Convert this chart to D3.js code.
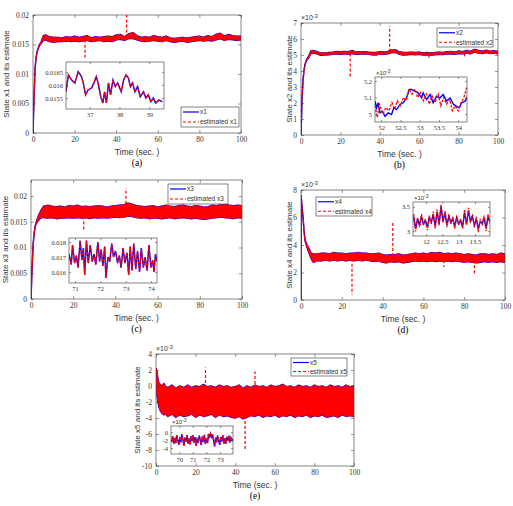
<!DOCTYPE html>
<html lang="en">
<head>
<meta charset="utf-8"/>
<script src="https://d3js.org/d3.v7.min.js"></script>
<style>
  body { margin: 0; background: #fff; }
  text { font-family: "Liberation Sans", Arial, sans-serif; fill: #333; }
  .cap { font-family: "Liberation Serif", "Times New Roman", serif; fill: #000; }
</style>
</head>
<body>
<script>
// ---------- data ----------
// shared time grid after the start-up transient (sec.)
var tailT = [6,8,10,12,14,16,18,20,22,24,26,28,30,32,34,36,38,40,42,44,46,48,50,52,
             54,56,58,60,62,64,66,68,70,72,74,76,78,80,82,84,86,88,90,92,94,96,98,100];

// (a) x1
var x1HeadT  = [0, 0.5, 1, 1.5, 2, 3, 4, 5];
var x1HeadLo = [0, 0.006, 0.011, 0.0128, 0.0138, 0.0148, 0.0152, 0.0157];
var x1HeadHi = [0, 0.006, 0.011, 0.0128, 0.0138, 0.0149, 0.0155, 0.0165];
var x1Lo = [0.0158,0.0155,0.0154,0.0155,0.0155,0.0156,0.0155,0.0156,0.0155,0.0156,0.0157,0.0155,
            0.0156,0.0157,0.0155,0.0156,0.0155,0.0158,0.0159,0.0157,0.0160,0.0160,0.0158,0.0156,
            0.0155,0.0156,0.0157,0.0156,0.0155,0.0157,0.0155,0.0154,0.0155,0.0156,0.0154,0.0155,
            0.0156,0.0157,0.0156,0.0157,0.0156,0.0158,0.0160,0.0157,0.0159,0.0158,0.0157,0.0158];
var x1Hi = [0.0166,0.0163,0.0162,0.0162,0.0161,0.0163,0.0162,0.0164,0.0162,0.0163,0.0165,0.0161,
            0.0163,0.0162,0.0163,0.0164,0.0163,0.0166,0.0167,0.0163,0.0168,0.0170,0.0165,0.0162,
            0.0163,0.0162,0.0165,0.0163,0.0162,0.0164,0.0161,0.0160,0.0161,0.0162,0.0161,0.0162,
            0.0163,0.0164,0.0162,0.0165,0.0163,0.0167,0.0169,0.0164,0.0167,0.0165,0.0164,0.0164];
var x1Spikes = [[25, 0.0158, 0.0127], [45, 0.0162, 0.0210]];
var x1InsetT = [36.20,36.28,36.39,36.50,36.61,36.72,36.78,36.86,36.94,37.06,37.14,37.22,37.28,
                37.37,37.44,37.50,37.56,37.63,37.70,37.78,37.86,37.94,38.06,38.14,38.22,38.30,
                38.37,38.44,38.52,38.61,38.70,38.81,38.89,38.97,39.06,39.14,39.22,39.33,39.44];
var x1InsetV = [0.01574,0.01638,0.01619,0.01608,0.01651,0.01632,0.01608,0.01562,0.01581,0.01588,
                0.01608,0.01632,0.01608,0.01555,0.01531,0.01574,0.01531,0.01608,0.01562,0.01619,
                0.01594,0.01608,0.01574,0.01619,0.01638,0.01627,0.01594,0.01608,0.01574,0.01594,
                0.01555,0.01574,0.01550,0.01562,0.01536,0.01550,0.01531,0.01542,0.01536];

// (b) x2, values in 1e-3
var x2HeadT  = [0, 0.5, 1, 1.5, 2, 3, 4, 5];
var x2HeadLo = [0, 2.2, 3.4, 4.0, 4.4, 4.7, 4.85, 5.1];
var x2HeadHi = [0, 2.2, 3.4, 4.0, 4.4, 4.75, 4.95, 5.25];
var x2Lo = [5.12,5.08,4.98,5.00,5.02,5.05,5.08,5.05,5.08,5.05,5.10,5.05,5.06,5.08,5.06,5.02,
            5.00,5.08,5.05,5.08,5.15,5.15,5.05,5.00,5.02,5.05,5.02,5.05,5.00,5.02,4.98,5.02,
            5.05,5.03,5.06,5.08,5.05,5.10,5.08,5.12,5.08,5.18,5.12,5.10,5.15,5.10,5.12,5.08];
var x2Hi = [5.28,5.22,5.12,5.12,5.15,5.18,5.22,5.20,5.22,5.20,5.28,5.18,5.20,5.20,5.18,5.15,
            5.15,5.20,5.18,5.22,5.32,5.32,5.20,5.15,5.15,5.18,5.15,5.18,5.12,5.15,5.12,5.15,
            5.18,5.15,5.20,5.22,5.18,5.25,5.20,5.28,5.22,5.35,5.28,5.24,5.30,5.24,5.26,5.22];
var x2Spikes = [[25, 5.1, 3.6], [45, 5.2, 6.8], [65, 5.02, 4.75], [83, 5.1, 4.85]];
var x2InsetT = [51.84,51.88,51.92,51.97,52.03,52.10,52.18,52.27,52.33,52.40,52.49,52.57,52.66,
                52.73,52.79,52.88,52.96,53.05,53.09,53.18,53.27,53.35,53.44,53.53,53.61,53.70,
                53.79,53.88,53.96,54.03,54.09,54.18,54.25];
var x2InsetV = [5.078,5.038,5.068,5.007,5.017,4.987,5.007,4.997,5.038,5.027,5.058,5.068,5.098,
                5.148,5.148,5.138,5.128,5.098,5.128,5.088,5.118,5.068,5.108,5.098,5.118,5.078,
                5.098,5.058,5.047,5.038,5.068,5.078,5.108];
var x2EstT = [51.84,51.90,51.95,52.00,52.05,52.12,52.20,52.28,52.35,52.42,52.50,52.58,52.65,
              52.72,52.80,52.88,52.95,53.02,53.10,53.18,53.25,53.32,53.40,53.48,53.55,53.62,
              53.70,53.78,53.85,53.92,54.00,54.08,54.15,54.22];
var x2EstV = [5.05,4.98,5.06,5.03,5.00,5.04,5.02,5.07,5.03,5.08,5.05,5.10,5.08,5.15,5.12,5.15,
              5.10,5.13,5.08,5.12,5.06,5.11,5.07,5.12,5.05,5.10,5.06,5.09,5.02,5.05,5.02,5.07,
              5.10,5.16];

// (c) x3
var x3HeadT  = [0, 0.5, 1, 1.5, 2, 3, 4, 5];
var x3HeadLo = [0, 0.006, 0.0105, 0.0128, 0.0142, 0.0150, 0.0155, 0.0158];
var x3HeadHi = [0, 0.006, 0.0105, 0.0128, 0.0142, 0.0156, 0.0166, 0.0174];
var x3Lo = [0.0158,0.0157,0.0158,0.0156,0.0157,0.0157,0.0158,0.0157,0.0158,0.0157,0.0158,0.0156,
            0.0158,0.0157,0.0158,0.0157,0.0158,0.0159,0.0158,0.0159,0.0161,0.0160,0.0158,0.0157,
            0.0158,0.0156,0.0157,0.0157,0.0156,0.0157,0.0158,0.0156,0.0157,0.0158,0.0157,0.0156,
            0.0157,0.0156,0.0155,0.0156,0.0157,0.0158,0.0159,0.0158,0.0157,0.0156,0.0158,0.0157];
var x3Hi = [0.0180,0.0182,0.0180,0.0179,0.0180,0.0178,0.0181,0.0180,0.0182,0.0179,0.0180,0.0179,
            0.0180,0.0181,0.0180,0.0178,0.0180,0.0181,0.0182,0.0183,0.0186,0.0184,0.0181,0.0180,
            0.0179,0.0180,0.0181,0.0178,0.0180,0.0182,0.0180,0.0179,0.0181,0.0182,0.0180,0.0179,
            0.0181,0.0180,0.0178,0.0179,0.0182,0.0181,0.0183,0.0184,0.0182,0.0181,0.0182,0.0181];
var x3Spikes = [[25, 0.0160, 0.0135], [45, 0.0175, 0.0215]];
var x3InsetT = [70.76,70.85,70.90,70.98,71.05,71.12,71.20,71.27,71.33,71.38,71.45,71.52,71.60,
                71.68,71.75,71.82,71.90,71.97,72.03,72.10,72.17,72.22,72.30,72.37,72.45,72.52,
                72.60,72.68,72.75,72.82,72.90,72.97,73.05,73.12,73.18,73.25,73.32,73.40,73.47,
                73.55,73.62,73.70,73.77,73.85,73.92,74.00,74.07,74.12,74.18,74.24];
var x3InsetV = [0.0172,0.0165,0.0178,0.0166,0.0171,0.0163,0.0181,0.0168,0.0176,0.0158,0.0181,
                0.0166,0.0178,0.0167,0.0172,0.0165,0.0180,0.0167,0.0175,0.0164,0.0177,0.0156,
                0.0170,0.0167,0.0179,0.0170,0.0174,0.0166,0.0171,0.0163,0.0176,0.0166,0.0173,
                0.0158,0.0177,0.0161,0.0179,0.0162,0.0174,0.0160,0.0176,0.0163,0.0170,0.0161,
                0.0178,0.0163,0.0168,0.0160,0.0172,0.0167];

// (d) x4, values in 1e-3
var x4HeadT  = [0, 0.05, 0.5, 1, 1.5, 2, 3, 4, 5];
var x4HeadLo = [0, 7.6, 6.8, 6.0, 5.0, 4.3, 3.8, 3.4, 3.0];
var x4HeadHi = [0, 7.6, 6.8, 6.0, 5.0, 4.35, 4.0, 3.7, 3.4];
var x4Lo = [2.75,2.85,2.85,2.90,2.85,2.90,2.85,2.90,2.85,2.90,2.85,2.90,2.85,2.90,2.85,2.80,
            2.85,2.75,2.70,2.80,2.75,2.80,2.70,2.75,2.80,2.85,2.80,2.85,2.80,2.85,2.80,2.85,
            2.80,2.85,2.80,2.85,2.80,2.75,2.80,2.75,2.70,2.75,2.80,2.75,2.80,2.75,2.80,2.75];
var x4Hi = [3.35,3.35,3.40,3.40,3.35,3.45,3.40,3.40,3.35,3.40,3.40,3.45,3.40,3.40,3.35,3.35,
            3.40,3.30,3.25,3.30,3.30,3.35,3.25,3.30,3.35,3.40,3.35,3.40,3.35,3.45,3.40,3.45,
            3.35,3.40,3.35,3.40,3.35,3.30,3.35,3.30,3.25,3.35,3.35,3.30,3.35,3.30,3.40,3.35];
var x4Spikes = [[25, 3.0, 0.4], [45, 3.2, 5.7], [70, 2.9, 2.4], [85, 2.9, 1.8]];
var x4InsetT = [11.62,11.68,11.74,11.80,11.86,11.92,11.98,12.04,12.10,12.16,12.22,12.28,12.34,
                12.40,12.46,12.52,12.58,12.64,12.70,12.76,12.82,12.88,12.94,13.00,13.06,13.12,
                13.18,13.24,13.30,13.36,13.42,13.48,13.54,13.60,13.66,13.72,13.78,13.84,13.90,13.96];
var x4InsetV = [3.30,3.05,3.25,3.12,3.30,3.15,3.22,3.08,3.28,3.18,3.35,3.10,3.40,3.15,3.50,3.20,
                3.38,3.12,3.30,3.18,3.25,3.10,3.28,3.15,3.22,3.10,3.38,3.15,3.42,3.20,3.30,3.12,
                3.25,3.05,3.20,3.15,3.28,3.06,3.30,3.18];
var x4EstV   = [3.35,3.00,3.28,3.10,3.35,3.12,3.25,3.02,3.32,3.15,3.40,3.05,3.45,3.12,3.55,3.18,
                3.42,3.08,3.35,3.15,3.30,3.05,3.32,3.12,3.25,3.05,3.45,3.12,3.48,3.18,3.35,3.08,
                3.30,2.98,3.25,3.12,3.32,3.00,3.35,3.15];

// (e) x5, values in 1e-3
var x5HeadT  = [0, 0.5, 1, 1.5, 2, 3, 4, 5];
var x5HeadLo = [-0.5, -1.2, -2.0, -2.6, -3.0, -3.4, -3.6, -3.5];
var x5HeadHi = [2.2, 1.8, 0.8, 0.4, 0.2, 0.0, 0.3, -0.1];
var x5Lo = [-3.8,-3.5,-3.9,-3.6,-3.8,-3.7,-3.5,-3.9,-3.6,-3.8,-3.7,-3.5,-3.9,-3.6,-3.8,-3.7,
            -3.9,-4.0,-3.8,-4.1,-3.9,-3.7,-3.8,-3.6,-3.9,-3.7,-3.8,-3.6,-3.9,-3.7,-3.8,-3.6,
            -3.9,-3.7,-3.8,-3.6,-3.9,-3.7,-3.8,-3.6,-3.9,-3.8,-3.7,-3.9,-3.6,-3.8,-3.7,-3.8];
var x5Hi = [-0.2,0.1,-0.3,0.0,-0.2,0.1,-0.2,0.0,-0.1,0.2,-0.1,0.0,-0.2,0.1,-0.1,0.0,
            -0.2,-0.1,0.1,-0.3,0.0,-0.2,0.1,-0.1,0.0,-0.2,0.1,-0.1,0.0,0.2,-0.1,0.0,
            -0.2,0.1,-0.1,0.0,-0.2,0.1,-0.1,0.0,-0.2,0.1,-0.1,0.0,-0.2,0.1,-0.1,0.0];
var x5Spikes = [[25, -1.5, 2.3], [45, -2.5, -8.0], [50, -1.0, 1.8]];
var x5InsetT = [69.45,69.52,69.60,69.68,69.75,69.82,69.90,69.98,70.05,70.12,70.20,70.28,70.35,
                70.42,70.50,70.58,70.65,70.72,70.80,70.88,70.95,71.02,71.10,71.18,71.25,71.32,
                71.40,71.48,71.55,71.62,71.70,71.78,71.85,71.92,72.00,72.08,72.15,72.22,72.30,
                72.38,72.45,72.52,72.60,72.68,72.75,72.82,72.90,72.98,73.05,73.12,73.20,73.28,
                73.35,73.42,73.50,73.58,73.65,73.72,73.80,73.88,73.95];
var x5InsetV = [-2.5,-1.0,-3.0,-1.5,-2.8,-0.8,-2.2,-3.2,-1.2,-2.6,-0.6,-2.0,-3.4,-1.4,-2.4,-0.7,
                -2.9,-1.6,-3.1,-1.0,-2.3,-0.8,-2.7,-1.3,-3.5,-1.8,-2.4,-0.9,-2.1,-3.3,-1.1,-2.5,
                -0.7,-3.0,-1.6,-2.8,-0.5,-1.2,-0.4,-1.5,-0.6,-2.0,-3.6,-1.4,-2.6,-0.9,-2.2,-3.2,
                -1.3,-2.4,-0.8,-2.9,-1.5,-3.0,-1.2,-2.2,-0.9,-2.6,-1.4,-2.1,-1.7];

var mainXTicks = [0, 20, 40, 60, 80, 100];

// ---------- panels (built from the arrays above) ----------
var panels = [
  { name: "x1", cap: "(a)", box: [33, 15, 241, 133], ylabX: 6, yDom: [0, 0.02], yTicks: [0, 0.005, 0.01, 0.015, 0.02], exp: false,
    headT: x1HeadT, headLo: x1HeadLo, headHi: x1HeadHi, lo: x1Lo, hi: x1Hi, spikes: x1Spikes,
    legend: [181, 107, 239, 127],
    inset: { box: [66, 62, 164, 109], xDom: [36.2, 39.5], yDom: [0.01508, 0.01688], xTicks: [37, 38, 39],
             yTicks: [0.0155, 0.016, 0.0165], t: x1InsetT, v: x1InsetV, et: x1InsetT, ev: x1InsetV, exp: false } },
  { name: "x2", cap: "(b)", box: [301, 23, 498, 135], ylabX: 289, yDom: [0, 7], yTicks: [0, 1, 2, 3, 4, 5, 6, 7], exp: true,
    headT: x2HeadT, headLo: x2HeadLo, headHi: x2HeadHi, lo: x2Lo, hi: x2Hi, spikes: x2Spikes,
    legend: [437, 28, 493, 47],
    inset: { box: [375, 77, 467, 122], xDom: [51.84, 54.23], yDom: [4.952, 5.224], xTicks: [52, 52.5, 53, 53.5, 54],
             yTicks: [5, 5.1, 5.2], t: x2InsetT, v: x2InsetV, et: x2EstT, ev: x2EstV, exp: true } },
  { name: "x3", cap: "(c)", box: [31, 180, 242, 299], ylabX: 5.5, yDom: [0, 0.0231], yTicks: [0, 0.005, 0.01, 0.015, 0.02], exp: false,
    headT: x3HeadT, headLo: x3HeadLo, headHi: x3HeadHi, lo: x3Lo, hi: x3Hi, spikes: x3Spikes,
    legend: [168, 184, 228, 204],
    inset: { box: [69, 238, 157, 283], xDom: [70.76, 74.24], yDom: [0.01527, 0.01827], xTicks: [71, 72, 73, 74],
             yTicks: [0.016, 0.017, 0.018], t: x3InsetT, v: x3InsetV, et: x3InsetT, ev: x3InsetV, exp: false } },
  { name: "x4", cap: "(d)", box: [301, 190, 505, 300], ylabX: 289, yDom: [0, 8], yTicks: [0, 2, 4, 6, 8], exp: true,
    headT: x4HeadT, headLo: x4HeadLo, headHi: x4HeadHi, lo: x4Lo, hi: x4Hi, spikes: x4Spikes,
    legend: [316, 197, 372, 216],
    inset: { box: [413, 202, 490, 236], xDom: [11.6, 13.96], yDom: [2.9, 3.6], xTicks: [12, 12.5, 13, 13.5],
             yTicks: [3, 3.5], t: x4InsetT, v: x4InsetV, et: x4InsetT, ev: x4EstV, exp: true } },
  { name: "x5", cap: "(e)", box: [156, 354, 354, 466], ylabX: 137, yDom: [-10, 4], yTicks: [-10, -8, -6, -4, -2, 0, 2, 4], exp: true,
    headT: x5HeadT, headLo: x5HeadLo, headHi: x5HeadHi, lo: x5Lo, hi: x5Hi, spikes: x5Spikes,
    legend: [291, 358, 347, 376],
    inset: { box: [171, 426, 233, 454], xDom: [69.4, 73.95], yDom: [-5.5, 1.5], xTicks: [70, 71, 72, 73],
             yTicks: [-4, -2, 0], t: x5InsetT, v: x5InsetV, et: x5InsetT, ev: x5InsetV, exp: true } }
];

var BLUE = "#0000ff", RED = "#ff0000", INK = "#333";
var fmt = function(d) { return String(d); };

var svg = d3.select("body").append("svg").attr("width", 513).attr("height", 506);
var defs = svg.append("defs");
var clipId = 0;

function clipFor(box) {
  var id = "clip" + (clipId++);
  defs.append("clipPath").attr("id", id).append("rect")
    .attr("x", box[0]).attr("y", box[1]).attr("width", box[2] - box[0]).attr("height", box[3] - box[1]);
  return "url(#" + id + ")";
}

// axes with inward ticks on all four sides, MATLAB style
function drawFrame(g, box, x, y, xTicks, yTicks, fs) {
  var tl = fs > 7 ? 3 : 2;
  function styleAxis(a) {
    a.select(".domain").remove();
    a.selectAll(".tick line").attr("stroke", INK).attr("stroke-width", 0.5);
    a.selectAll(".tick text").attr("font-size", fs + "px").attr("fill", INK).style("font-family", "inherit");
    a.attr("font-family", null);
  }
  g.append("g").attr("transform", "translate(0," + box[3] + ")")
    .call(d3.axisBottom(x).tickValues(xTicks).tickFormat(fmt).tickSizeInner(-tl).tickSizeOuter(0).tickPadding(fs > 7 ? 4 : 3))
    .call(styleAxis);
  g.append("g").attr("transform", "translate(0," + box[1] + ")")
    .call(d3.axisTop(x).tickValues(xTicks).tickFormat("").tickSizeInner(-tl).tickSizeOuter(0))
    .call(styleAxis);
  g.append("g").attr("transform", "translate(" + box[0] + ",0)")
    .call(d3.axisLeft(y).tickValues(yTicks).tickFormat(fmt).tickSizeInner(-tl).tickSizeOuter(0).tickPadding(fs > 7 ? 4 : 3))
    .call(styleAxis);
  g.append("g").attr("transform", "translate(" + box[2] + ",0)")
    .call(d3.axisRight(y).tickValues(yTicks).tickFormat("").tickSizeInner(-tl).tickSizeOuter(0))
    .call(styleAxis);
  g.append("rect").attr("x", box[0]).attr("y", box[1])
    .attr("width", box[2] - box[0]).attr("height", box[3] - box[1])
    .attr("fill", "none").attr("stroke", INK).attr("stroke-width", 0.6);
}

function expLabel(g, px, py, fs) {
  var t = g.append("text").attr("x", px).attr("y", py).attr("font-size", fs + "px");
  t.append("tspan").text("\u00d710");
  t.append("tspan").attr("dy", -fs * 0.35).attr("font-size", (fs * 0.8) + "px").text("-3");
}

panels.forEach(function(p) {
  var g = svg.append("g");
  var b = p.box;
  var x = d3.scaleLinear().domain([0, 100]).range([b[0], b[2]]);
  var y = d3.scaleLinear().domain(p.yDom).range([b[3], b[1]]);

  g.append("rect").attr("x", b[0]).attr("y", b[1]).attr("width", b[2] - b[0]).attr("height", b[3] - b[1]).attr("fill", "#fff");

  var band = p.headT.map(function(t, i) { return { t: t, lo: p.headLo[i], hi: p.headHi[i] }; })
    .concat(tailT.map(function(t, i) { return { t: t, lo: p.lo[i], hi: p.hi[i] }; }));
  var area = d3.area().x(function(d) { return x(d.t); })
    .y0(function(d) { return y(d.lo); }).y1(function(d) { return y(d.hi); });

  var plot = g.append("g").attr("clip-path", clipFor(b));
  // true state (blue, solid)
  plot.append("path").datum(band).attr("d", area)
    .attr("fill", BLUE).attr("stroke", BLUE).attr("stroke-width", 1.5).attr("stroke-linejoin", "round");
  // estimate (red, dashed)
  plot.append("path").datum(band).attr("d", area)
    .attr("fill", RED).attr("stroke", RED).attr("stroke-width", 1.2).attr("stroke-dasharray", "3,2");
  // short spikes of the estimate
  plot.selectAll("line.spike").data(p.spikes).enter().append("line").attr("class", "spike")
    .attr("x1", function(d) { return x(d[0]); }).attr("x2", function(d) { return x(d[0]); })
    .attr("y1", function(d) { return y(d[1]); }).attr("y2", function(d) { return y(d[2]); })
    .attr("stroke", RED).attr("stroke-width", 1.2).attr("stroke-dasharray", "3,2");

  drawFrame(g, b, x, y, mainXTicks, p.yTicks, 7.5);
  if (p.exp) expLabel(g, b[0], b[1] - 3, 7);

  // axis titles and caption
  var cx = (b[0] + b[2]) / 2;
  g.append("text").attr("x", cx).attr("y", b[3] + 22).attr("text-anchor", "middle")
    .attr("font-size", "8.5px").text("Time (sec. )");
  g.append("text").attr("transform", "translate(" + p.ylabX + "," + ((b[1] + b[3]) / 2) + ") rotate(-90)")
    .attr("text-anchor", "middle").attr("dy", "0.35em").attr("font-size", "8px").text("State " + p.name + " and its estimate");
  g.append("text").attr("class", "cap").attr("x", cx).attr("y", b[3] + 33).attr("text-anchor", "middle")
    .attr("font-size", "9.5px").text(p.cap);

  // inset
  var ins = p.inset, ib = ins.box;
  var ix = d3.scaleLinear().domain(ins.xDom).range([ib[0], ib[2]]);
  var iy = d3.scaleLinear().domain(ins.yDom).range([ib[3], ib[1]]);
  g.append("rect").attr("x", ib[0]).attr("y", ib[1]).attr("width", ib[2] - ib[0]).attr("height", ib[3] - ib[1]).attr("fill", "#fff");
  var ip = g.append("g").attr("clip-path", clipFor(ib));
  ip.append("path").datum(ins.t.map(function(t, i) { return [t, ins.v[i]]; }))
    .attr("d", d3.line().x(function(d) { return ix(d[0]); }).y(function(d) { return iy(d[1]); }))
    .attr("fill", "none").attr("stroke", BLUE).attr("stroke-width", 1.4);
  ip.append("path").datum(ins.et.map(function(t, i) { return [t, ins.ev[i]]; }))
    .attr("d", d3.line().x(function(d) { return ix(d[0]); }).y(function(d) { return iy(d[1]); }))
    .attr("fill", "none").attr("stroke", RED).attr("stroke-width", 1.3).attr("stroke-dasharray", "2.5,1.5");
  drawFrame(g, ib, ix, iy, ins.xTicks, ins.yTicks, 6.5);
  if (ins.exp) expLabel(g, ib[0] + 1, ib[1] - 2, 6);

  // legend
  var lg = p.legend;
  g.append("rect").attr("x", lg[0]).attr("y", lg[1]).attr("width", lg[2] - lg[0]).attr("height", lg[3] - lg[1])
    .attr("fill", "#fff").attr("stroke", INK).attr("stroke-width", 0.6);
  var rows = [[p.name, BLUE, null], ["estimated " + p.name, RED, "3,2"]];
  var rh = (lg[3] - lg[1]) / 2;
  rows.forEach(function(r, i) {
    var yy = lg[1] + rh * (i + 0.5);
    g.append("line").attr("x1", lg[0] + 2).attr("x2", lg[0] + 18).attr("y1", yy).attr("y2", yy)
      .attr("stroke", r[1]).attr("stroke-width", 1.2).attr("stroke-dasharray", r[2]);
    g.append("text").attr("x", lg[0] + 19).attr("y", yy).attr("dy", "0.35em").attr("font-size", "6.5px").text(r[0]);
  });
});
</script>
</body>
</html>
